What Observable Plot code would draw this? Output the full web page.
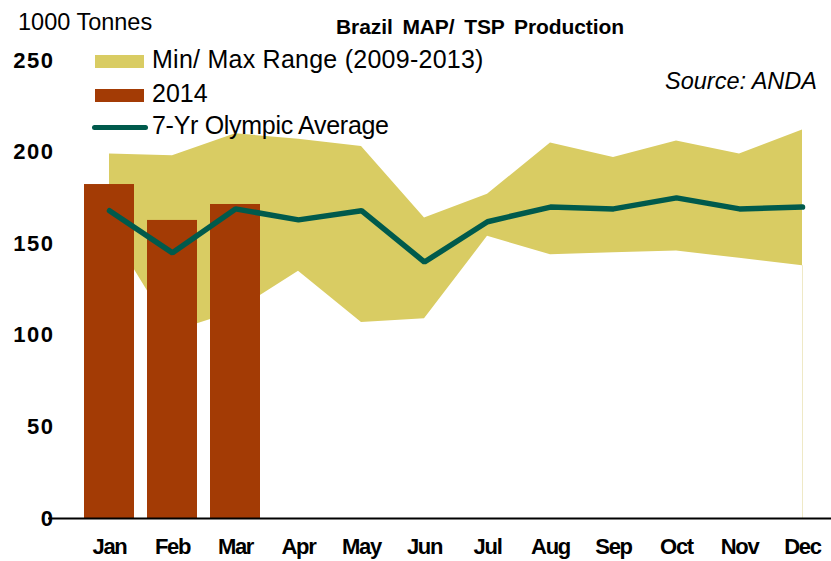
<!DOCTYPE html>
<html>
<head>
<meta charset="utf-8">
<script src="https://cdn.jsdelivr.net/npm/d3@7"></script>
<script src="https://cdn.jsdelivr.net/npm/@observablehq/plot@0.6"></script>
<style>
  html, body { margin: 0; padding: 0; background: #fff; }
  #wrap { position: relative; width: 831px; height: 561px; font-family: Arial, "Liberation Sans", sans-serif; color: #000; overflow: hidden; }
  #wrap svg { position: absolute; left: 0; top: 0; }
  .lbl { position: absolute; white-space: nowrap; line-height: 1; }
  .sw { position: absolute; }
  g[aria-label="y-axis tick label"] { letter-spacing: 1.5px; }
  g[aria-label="x-axis tick label"] { letter-spacing: -1.3px; }
</style>
</head>
<body>
<div id="wrap"></div>
<script>
const months = ["Jan","Feb","Mar","Apr","May","Jun","Jul","Aug","Sep","Oct","Nov","Dec"];
const rangeMin = [158, 102, 113, 135, 107, 109, 154, 144, 145, 146, 142, 138];
const rangeMax = [199, 198, 210, 207, 203, 164, 177, 205, 197, 206, 199, 212];
const olympicAvg = [168, 145, 169, 163, 168, 140, 162, 170, 169, 175, 169, 170];
const months2014 = ["Jan","Feb","Mar"];
const production2014 = [182.3, 162.7, 171.4];
const yTicks = [0, 50, 100, 150, 200, 250];

const rangeData = months.map((m, i) => ({month: m, min: rangeMin[i], max: rangeMax[i], avg: olympicAvg[i]}));
const barData = months2014.map((m, i) => ({month: m, value: production2014[i]}));

const font = 'Arial, "Liberation Sans", sans-serif';

const chart = Plot.plot({
  width: 831,
  height: 561,
  marginLeft: 48,
  marginRight: 0,
  marginTop: 60,
  marginBottom: 43,
  style: {fontFamily: font, background: "transparent", overflow: "visible"},
  x: {type: "band", domain: months, range: [76.55, 833.55], paddingInner: 0.21, paddingOuter: 0.105, align: 0.5, axis: null},
  y: {domain: [0, 250], range: [518, 60], axis: null},
  marks: [
    Plot.areaY(rangeData, {x: "month", y1: "min", y2: "max", fill: "#d9cc63", curve: "linear"}),
    Plot.ruleX([rangeData[rangeData.length - 1]], {x: "month", y1: 0, y2: "min", stroke: "#efe9c6", strokeWidth: 1}),
    Plot.barY(barData, {x: "month", y: "value", fill: "#a33b05"}),
    Plot.lineY(rangeData, {x: "month", y: "avg", stroke: "#005a4c", strokeWidth: 5.5, strokeLinejoin: "miter", strokeLinecap: "round"}),
    Plot.ruleY([0], {stroke: "#000", strokeWidth: 2}),
    Plot.axisY({ticks: yTicks, tickSize: 0, tickPadding: 0, dx: 6, fontSize: 22, fontWeight: "bold", label: null, tickFormat: d => String(d)}),
    Plot.axisX({tickSize: 0, tickPadding: 20, fontSize: 22, fontWeight: "bold", label: null})
  ]
});

const wrap = document.getElementById("wrap");
wrap.appendChild(chart);

function addLabel(text, css) {
  const d = document.createElement("div");
  d.className = "lbl";
  d.textContent = text;
  Object.assign(d.style, css);
  wrap.appendChild(d);
  return d;
}
function addSwatch(css) {
  const d = document.createElement("div");
  d.className = "sw";
  Object.assign(d.style, css);
  wrap.appendChild(d);
}

addLabel("1000 Tonnes", {left: "18px", top: "11px", fontSize: "23.5px"});
addLabel("Brazil MAP/ TSP Production", {left: "480px", top: "16px", fontSize: "21px", fontWeight: "bold", transform: "translateX(-50%)", wordSpacing: "4px", letterSpacing: "-0.1px"});
addLabel("Source: ANDA", {left: "665px", top: "70px", fontSize: "23.5px", fontStyle: "italic"});

addSwatch({left: "95px", top: "55px", width: "49px", height: "13px", background: "#d9cc63"});
addSwatch({left: "95px", top: "89px", width: "49px", height: "13px", background: "#a33b05"});
addSwatch({left: "92px", top: "124.5px", width: "56px", height: "5px", background: "#005a4c", borderRadius: "3px"});
addLabel("Min/ Max Range (2009-2013)", {left: "152px", top: "47px", fontSize: "25px", letterSpacing: "0.25px"});
addLabel("2014", {left: "152px", top: "81px", fontSize: "25px"});
addLabel("7-Yr Olympic Average", {left: "152px", top: "113px", fontSize: "25px", letterSpacing: "-0.3px"});
</script>
</body>
</html>
